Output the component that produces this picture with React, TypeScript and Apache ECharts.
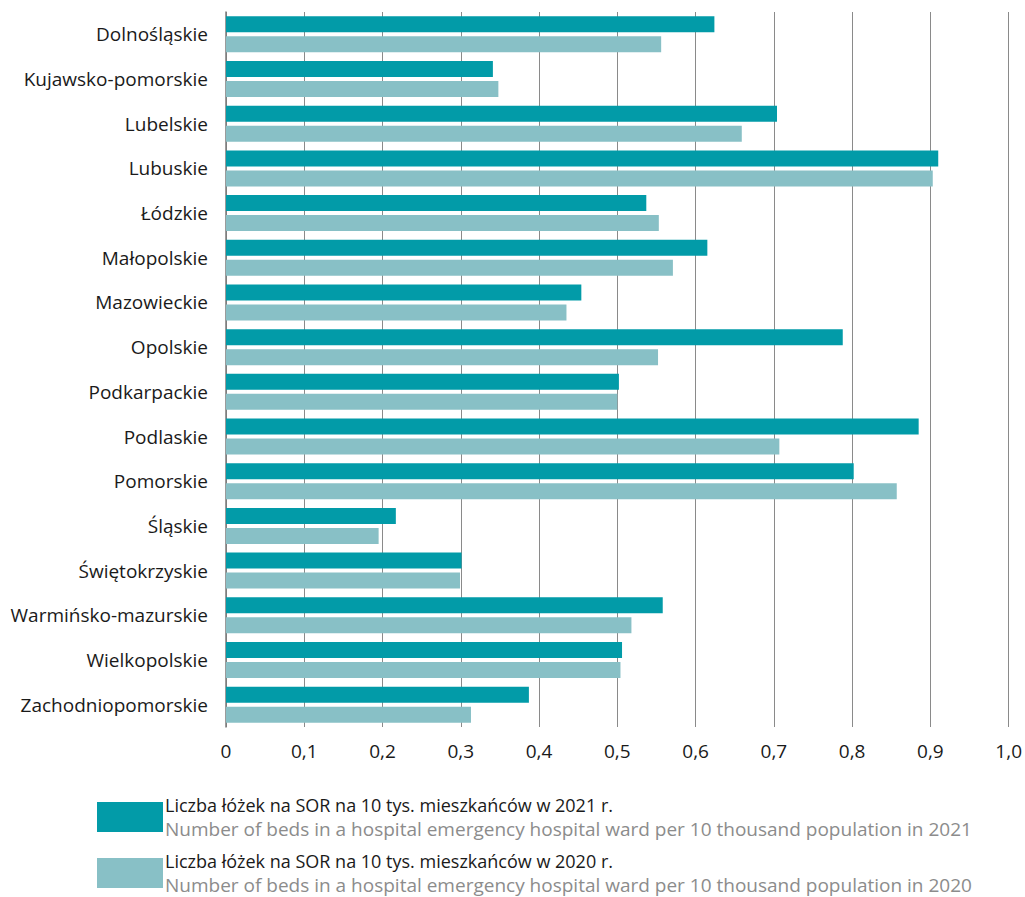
import React, { useEffect, useRef } from "react";
import * as echarts from "echarts";

const categories = [
  "Dolnośląskie",
  "Kujawsko-pomorskie",
  "Lubelskie",
  "Lubuskie",
  "Łódzkie",
  "Małopolskie",
  "Mazowieckie",
  "Opolskie",
  "Podkarpackie",
  "Podlaskie",
  "Pomorskie",
  "Śląskie",
  "Świętokrzyskie",
  "Warmińsko-mazurskie",
  "Wielkopolskie",
  "Zachodniopomorskie",
];

const values2021 = [0.624, 0.341, 0.704, 0.91, 0.537, 0.615, 0.454, 0.788, 0.502, 0.885, 0.802, 0.217, 0.301, 0.558, 0.506, 0.387];
const values2020 = [0.556, 0.348, 0.659, 0.903, 0.553, 0.571, 0.435, 0.552, 0.5, 0.707, 0.857, 0.195, 0.299, 0.518, 0.504, 0.313];

const series2021PL = "Liczba łóżek na SOR na 10 tys. mieszkańców w 2021 r.";
const series2021EN = "Number of beds in a hospital emergency hospital ward per 10 thousand population in 2021";
const series2020PL = "Liczba łóżek na SOR na 10 tys. mieszkańców w 2020 r.";
const series2020EN = "Number of beds in a hospital emergency hospital ward per 10 thousand population in 2020";

const FONT = "'Open Sans', 'Noto Sans', sans-serif";
const DARK = "#029ba8";
const LIGHT = "#88c0c6";

export default function App() {
  const ref = useRef<HTMLDivElement>(null);
  useEffect(() => {
    if (!ref.current) return;
    const chart = echarts.init(ref.current, null, { renderer: "svg" });
    const legendText: Record<string, string> = {
      [series2021PL]: `{a|${series2021PL}}\n{b|${series2021EN}}`,
      [series2020PL]: `{a|${series2020PL}}\n{b|${series2020EN}}`,
    };
    chart.setOption({
      animation: false,
      textStyle: { fontFamily: FONT },
      grid: { left: 226, right: 15, top: 12, height: 715, containLabel: false },
      xAxis: {
        type: "value",
        min: 0,
        max: 1,
        interval: 0.1,
        axisLine: { show: false },
        axisTick: { show: false },
        splitLine: { show: true, lineStyle: { color: "#8a8a8a", width: 1 } },
        axisLabel: {
          color: "#1a1a1a",
          fontSize: 19,
          fontFamily: FONT,
          margin: 14,
          formatter: (v: number) => (v === 0 ? "0" : v.toFixed(1).replace(".", ",")),
        },
      },
      yAxis: {
        type: "category",
        data: categories,
        inverse: true,
        axisLine: { show: true, lineStyle: { color: "#7a7a7a", width: 1.5 } },
        axisTick: { show: false },
        axisLabel: { color: "#1a1a1a", fontSize: 19, fontFamily: FONT, margin: 18 },
      },
      legend: {
        orient: "vertical",
        left: 97,
        top: 793,
        padding: 0,
        itemWidth: 66,
        itemHeight: 30,
        itemGap: 8,
        icon: "rect",
        selectedMode: false,
        formatter: (name: string) => legendText[name] || name,
        textStyle: {
          padding: [0, 0, 0, -3],
          rich: {
            a: { fontSize: 18, fontFamily: FONT, color: "#1a1a1a", lineHeight: 24, height: 24 },
            b: { fontSize: 19, fontFamily: FONT, color: "#8c8c8c", lineHeight: 24, height: 24 },
          },
        },
      },
      series: [
        {
          name: series2021PL,
          type: "bar",
          data: values2021,
          barWidth: 16,
          barGap: "25%",
          itemStyle: { color: DARK },
        },
        {
          name: series2020PL,
          type: "bar",
          data: values2020,
          barWidth: 16,
          barGap: "25%",
          itemStyle: { color: LIGHT },
        },
      ],
    });
    return () => chart.dispose();
  }, []);
  return (
    <div
      ref={ref}
      style={{ position: "absolute", left: 0, top: 0, width: 1025, height: 897, background: "#fff" }}
    />
  );
}
